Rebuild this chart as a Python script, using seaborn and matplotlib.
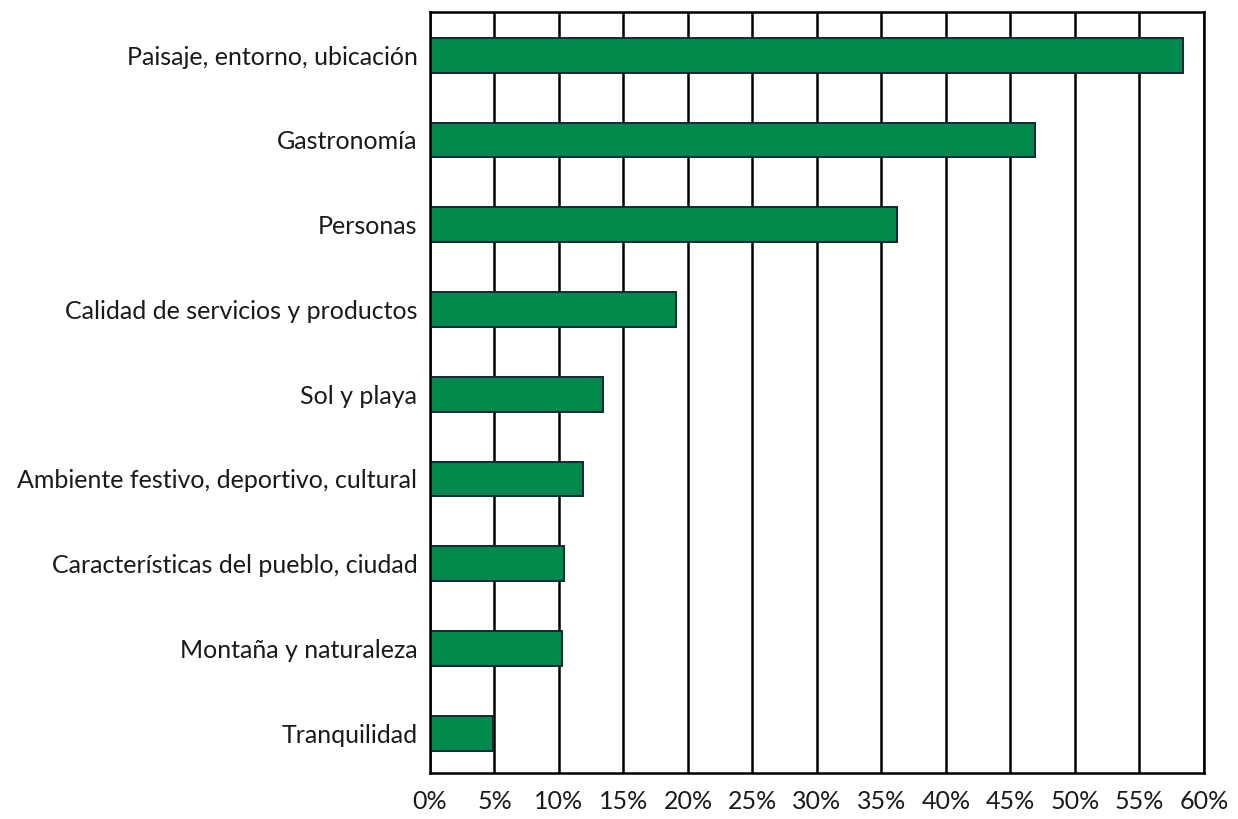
import pandas as pd
import matplotlib.pyplot as plt
import seaborn as sns

# Values (percent)
categories = [
    "Paisaje, entorno, ubicación",
    "Gastronomía",
    "Personas",
    "Calidad de servicios y productos",
    "Sol y playa",
    "Ambiente festivo, deportivo, cultural",
    "Características del pueblo, ciudad",
    "Montaña y naturaleza",
    "Tranquilidad",
]
values = [58.4, 46.9, 36.2, 19.1, 13.4, 11.9, 10.4, 10.2, 4.9]
tick_values = [0, 5, 10, 15, 20, 25, 30, 35, 40, 45, 50, 55, 60]
tick_labels = [f"{t}%" for t in tick_values]

df = pd.DataFrame({"Categoria": categories, "Porcentaje": values})

sns.set_style("white")
plt.rcParams['font.family'] = ['Lato', 'DejaVu Sans']

fig = plt.figure(figsize=(12.38, 8.19), dpi=100)
ax = fig.add_axes([0.3473, 0.0562, 0.6252, 0.9291])

# vertical grid lines drawn below bars
for t in tick_values:
    ax.axvline(t, color='black', linewidth=1.8, zorder=0)

sns.barplot(data=df, x="Porcentaje", y="Categoria", orient='h',
            color='#00894a', saturation=1, width=0.41,
            edgecolor='#15263a', linewidth=1.4, ax=ax, zorder=2)

ax.set_xlim(0, 60)
ax.set_ylim(8.47, -0.51)
ax.set_xticks(tick_values)
ax.set_xticklabels(tick_labels, fontsize=18, color='#1a1a1a')
ax.tick_params(axis='y', labelsize=18, labelcolor='#1a1a1a', length=0, pad=9)
ax.tick_params(axis='x', direction='out', length=6, width=1.8, color='black', pad=6)
ax.set_xlabel("")
ax.set_ylabel("")

for side in ['left', 'right', 'top', 'bottom']:
    ax.spines[side].set_visible(True)
    ax.spines[side].set_color('black')
    ax.spines[side].set_linewidth(1.8)

fig.savefig("out.png", dpi=100)
